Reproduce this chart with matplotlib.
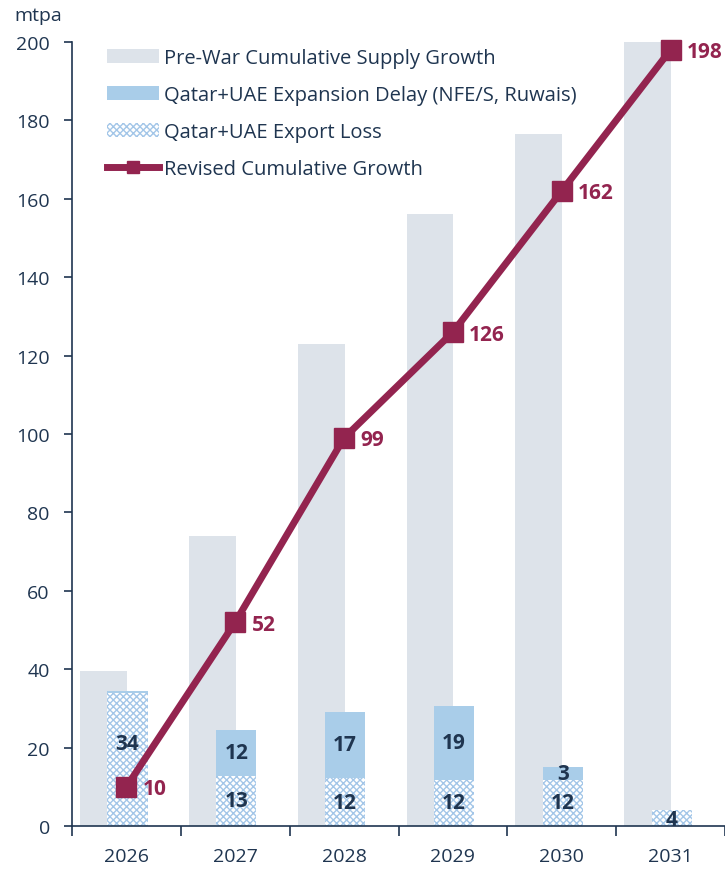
import matplotlib
matplotlib.use("Agg")
import matplotlib.pyplot as plt
import numpy as np
from matplotlib.patches import Patch
from matplotlib.lines import Line2D

plt.rcParams['font.family'] = ['Open Sans', 'DejaVu Sans']
plt.rcParams['hatch.linewidth'] = 1.0

years = ['2026', '2027', '2028', '2029', '2030', '2031']
prewar = [39.5, 74, 123, 156, 176.5, 201]
export_loss = [34, 12.8, 12.2, 11.8, 11.8, 4.1]
delay = [0.5, 11.7, 17, 18.8, 3.3, 0]
loss_labels = ['34', '13', '12', '12', '12', '4']
delay_labels = ['', '12', '17', '19', '3', '']
revised = [10, 52, 99, 126, 162, 198]

grey = '#dde3ea'
blue = '#a9cde9'
hatch_col = '#a3c6e8'
crimson = '#93244f'
navy = '#1f3550'

fig = plt.figure(figsize=(7.25, 8.7), dpi=100)
ax = fig.add_axes([72/725, 43/870, 653/725, 784/870])

x = np.arange(len(years))
ax.bar(x - 0.21, prewar, width=0.43, color=grey, zorder=1)
ax.bar(x + 0.01, export_loss, width=0.37, facecolor='white', edgecolor=hatch_col,
       hatch='xxxxx', linewidth=0, zorder=2)
ax.bar(x + 0.01, delay, width=0.37, bottom=export_loss, color=blue, zorder=2)

label_shift = [4, 0, 0, 0, 0, -0.3]
for i in range(len(years)):
    ax.text(x[i] + 0.01, export_loss[i] / 2 + label_shift[i], loss_labels[i],
            ha='center', va='center', fontsize=15, fontweight='bold', color=navy, zorder=5)
    if delay_labels[i]:
        ax.text(x[i] + 0.01, export_loss[i] + delay[i] / 2, delay_labels[i],
                ha='center', va='center', fontsize=15, fontweight='bold', color=navy, zorder=5)

ax.plot(x, revised, color=crimson, lw=5, marker='s', markersize=15, zorder=4, clip_on=False)
for i, v in enumerate(revised):
    ax.text(x[i] + 0.15, v - 0.5, str(v), ha='left', va='center', fontsize=15,
            fontweight='bold', color=crimson, zorder=5)

ax.set_xlim(-0.5, 5.5)
ax.set_ylim(0, 200)
ax.set_yticks(np.arange(0, 201, 20))
ax.set_xticks(x)
ax.set_xticklabels(years)
ax.set_xticks(np.arange(-0.5, 5.6, 1), minor=True)
ax.tick_params(axis='x', which='major', length=0, pad=15, labelsize=14, labelcolor=navy)
ax.tick_params(axis='x', which='minor', length=7, direction='out', color=navy, width=1.2)
ax.tick_params(axis='y', length=6, direction='out', color=navy, width=1.2, labelsize=14,
               labelcolor=navy, pad=10)
for s in ['top', 'right']:
    ax.spines[s].set_visible(False)
for s in ['left', 'bottom']:
    ax.spines[s].set_color(navy)
    ax.spines[s].set_linewidth(1.2)

fig.text(38/725, 1 - 16/870, 'mtpa', ha='center', va='center', fontsize=14, color=navy)

handles = [
    Patch(facecolor=grey, edgecolor='none'),
    Patch(facecolor=blue, edgecolor='none'),
    Patch(facecolor='white', edgecolor=hatch_col, hatch='xxxxx', linewidth=0),
    Line2D([0], [0], color=crimson, lw=5, marker='s', markersize=9),
]
labels = ['Pre-War Cumulative Supply Growth', 'Qatar+UAE Expansion Delay (NFE/S, Ruwais)',
          'Qatar+UAE Export Loss', 'Revised Cumulative Growth']
leg = ax.legend(handles, labels, loc='upper left', bbox_to_anchor=(0.041, 1.003), frameon=False,
                fontsize=14.5, labelcolor=navy, handlelength=2.6, handleheight=0.7,
                handletextpad=0.25, labelspacing=0.85, borderaxespad=0)

fig.savefig('out.png', dpi=100)
